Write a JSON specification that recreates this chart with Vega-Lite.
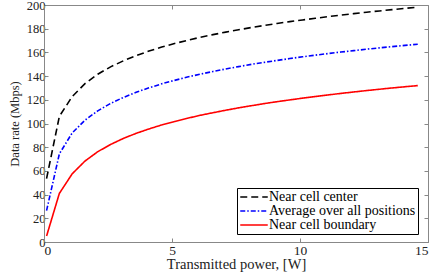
{
  "$schema": "https://vega.github.io/schema/vega-lite/v6.json",
  "autosize": {"type": "none"},
  "padding": {"left": 44, "top": 5, "right": 8, "bottom": 31},
  "width": 384,
  "height": 237,
  "background": "white",
  "config": {
    "font": "Liberation Serif",
    "view": {"stroke": "#888888", "strokeWidth": 1},
    "axis": {"grid": false, "domainColor": "#888888", "tickColor": "#888888", "labelColor": "#222222", "titleColor": "#222222", "labelFont": "Liberation Serif", "titleFont": "Liberation Serif", "labelFontSize": 13.5, "titleFontSize": 14.5, "titleFontWeight": "normal", "tickSize": -4},
    "legend": {"labelFont": "Liberation Serif", "labelFontSize": 14, "labelColor": "#000000", "symbolType": "M-2.5,0H2.5", "symbolSize": 121, "symbolStrokeWidth": 1.6, "symbolOffset": 8, "labelOffset": 8, "padding": 2, "rowPadding": -3, "fillColor": "white", "strokeColor": "#000000"}
  },
  "data": {"values": [
    {"x":0.1,"y":53.5,"s":"Near cell center"},{"x":0.6,"y":106,"s":"Near cell center"},{"x":1.1,"y":122.7,"s":"Near cell center"},{"x":1.6,"y":133.6,"s":"Near cell center"},{"x":2.1,"y":141.6,"s":"Near cell center"},{"x":2.6,"y":147.8,"s":"Near cell center"},{"x":3.1,"y":152.9,"s":"Near cell center"},{"x":3.6,"y":157.3,"s":"Near cell center"},{"x":4.1,"y":161.1,"s":"Near cell center"},{"x":4.6,"y":164.5,"s":"Near cell center"},{"x":5.1,"y":167.5,"s":"Near cell center"},{"x":5.6,"y":170.2,"s":"Near cell center"},{"x":6.1,"y":172.7,"s":"Near cell center"},{"x":6.6,"y":175.0,"s":"Near cell center"},{"x":7.1,"y":177.1,"s":"Near cell center"},{"x":7.6,"y":179.1,"s":"Near cell center"},{"x":8.1,"y":181.0,"s":"Near cell center"},{"x":8.6,"y":182.7,"s":"Near cell center"},{"x":9.1,"y":184.4,"s":"Near cell center"},{"x":9.6,"y":186.0,"s":"Near cell center"},{"x":10.1,"y":187.4,"s":"Near cell center"},{"x":10.6,"y":188.8,"s":"Near cell center"},{"x":11.1,"y":190.2,"s":"Near cell center"},{"x":11.6,"y":191.5,"s":"Near cell center"},{"x":12.1,"y":192.7,"s":"Near cell center"},{"x":12.6,"y":193.9,"s":"Near cell center"},{"x":13.1,"y":195.0,"s":"Near cell center"},{"x":13.6,"y":196.1,"s":"Near cell center"},{"x":14.1,"y":197.2,"s":"Near cell center"},{"x":14.6,"y":198.2,"s":"Near cell center"},
    {"x":0.1,"y":26.5,"s":"Average over all positions"},{"x":0.6,"y":74.4,"s":"Average over all positions"},{"x":1.1,"y":92.0,"s":"Average over all positions"},{"x":1.6,"y":102.8,"s":"Average over all positions"},{"x":2.1,"y":110.7,"s":"Average over all positions"},{"x":2.6,"y":116.9,"s":"Average over all positions"},{"x":3.1,"y":122.0,"s":"Average over all positions"},{"x":3.6,"y":126.3,"s":"Average over all positions"},{"x":4.1,"y":130.1,"s":"Average over all positions"},{"x":4.6,"y":133.5,"s":"Average over all positions"},{"x":5.1,"y":136.4,"s":"Average over all positions"},{"x":5.6,"y":139.2,"s":"Average over all positions"},{"x":6.1,"y":141.6,"s":"Average over all positions"},{"x":6.6,"y":143.9,"s":"Average over all positions"},{"x":7.1,"y":146.0,"s":"Average over all positions"},{"x":7.6,"y":148.0,"s":"Average over all positions"},{"x":8.1,"y":149.9,"s":"Average over all positions"},{"x":8.6,"y":151.6,"s":"Average over all positions"},{"x":9.1,"y":153.2,"s":"Average over all positions"},{"x":9.6,"y":154.8,"s":"Average over all positions"},{"x":10.1,"y":156.3,"s":"Average over all positions"},{"x":10.6,"y":157.7,"s":"Average over all positions"},{"x":11.1,"y":159.0,"s":"Average over all positions"},{"x":11.6,"y":160.3,"s":"Average over all positions"},{"x":12.1,"y":161.5,"s":"Average over all positions"},{"x":12.6,"y":162.7,"s":"Average over all positions"},{"x":13.1,"y":163.8,"s":"Average over all positions"},{"x":13.6,"y":164.9,"s":"Average over all positions"},{"x":14.1,"y":165.9,"s":"Average over all positions"},{"x":14.6,"y":166.9,"s":"Average over all positions"},
    {"x":0.1,"y":5,"s":"Near cell boundary"},{"x":0.6,"y":41,"s":"Near cell boundary"},{"x":1.1,"y":57.5,"s":"Near cell boundary"},{"x":1.6,"y":68.3,"s":"Near cell boundary"},{"x":2.1,"y":76.2,"s":"Near cell boundary"},{"x":2.6,"y":82.3,"s":"Near cell boundary"},{"x":3.1,"y":87.4,"s":"Near cell boundary"},{"x":3.6,"y":91.7,"s":"Near cell boundary"},{"x":4.1,"y":95.4,"s":"Near cell boundary"},{"x":4.6,"y":98.8,"s":"Near cell boundary"},{"x":5.1,"y":101.7,"s":"Near cell boundary"},{"x":5.6,"y":104.4,"s":"Near cell boundary"},{"x":6.1,"y":106.9,"s":"Near cell boundary"},{"x":6.6,"y":109.1,"s":"Near cell boundary"},{"x":7.1,"y":111.2,"s":"Near cell boundary"},{"x":7.6,"y":113.2,"s":"Near cell boundary"},{"x":8.1,"y":115.0,"s":"Near cell boundary"},{"x":8.6,"y":116.8,"s":"Near cell boundary"},{"x":9.1,"y":118.4,"s":"Near cell boundary"},{"x":9.6,"y":119.9,"s":"Near cell boundary"},{"x":10.1,"y":121.4,"s":"Near cell boundary"},{"x":10.6,"y":122.8,"s":"Near cell boundary"},{"x":11.1,"y":124.1,"s":"Near cell boundary"},{"x":11.6,"y":125.4,"s":"Near cell boundary"},{"x":12.1,"y":126.6,"s":"Near cell boundary"},{"x":12.6,"y":127.8,"s":"Near cell boundary"},{"x":13.1,"y":128.9,"s":"Near cell boundary"},{"x":13.6,"y":130.0,"s":"Near cell boundary"},{"x":14.1,"y":131.0,"s":"Near cell boundary"},{"x":14.6,"y":132.0,"s":"Near cell boundary"}
  ]},
  "layer": [
    {
      "mark": {"type": "line", "strokeWidth": 1.6},
      "encoding": {
        "x": {"field": "x", "type": "quantitative", "scale": {"domain": [0, 15], "nice": false}, "axis": {"values": [0, 5, 10, 15], "title": "Transmitted power, [W]", "titlePadding": 1, "labelPadding": 5}},
        "y": {"field": "y", "type": "quantitative", "scale": {"domain": [0, 200], "nice": false}, "axis": {"values": [0,20,40,60,80,100,120,140,160,180,200], "title": "Data rate (Mbps)", "labelFontSize": 12.5, "titleFontSize": 12.5, "titlePadding": 5, "labelPadding": 3}},
        "color": {"field": "s", "type": "nominal", "sort": null, "scale": {"domain": ["Near cell center", "Average over all positions", "Near cell boundary"], "range": ["#000000", "#0000ff", "#ff0000"]},
          "legend": {"title": null, "orient": "none", "legendX": 193, "legendY": 183, "rowPadding": -3}},
        "strokeDash": {"field": "s", "type": "nominal", "sort": null, "scale": {"domain": ["Near cell center", "Average over all positions", "Near cell boundary"], "range": [[7, 4], [5, 2, 1.5, 2], [1, 0]]}, "legend": {"title": null, "orient": "none", "legendX": 193, "legendY": 183, "rowPadding": -3}}
      }
    },
    {
      "mark": {"type": "rule", "opacity": 0},
      "encoding": {
        "x": {"datum": 0, "type": "quantitative", "axis": {"orient": "top", "values": [0,5,10,15], "labels": false, "title": null, "domain": false}},
        "y": {"datum": 0, "type": "quantitative", "axis": {"orient": "right", "values": [0,20,40,60,80,100,120,140,160,180,200], "labels": false, "title": null, "domain": false}}
      }
    }
  ],
  "resolve": {"axis": {"x": "independent", "y": "independent"}}
}
